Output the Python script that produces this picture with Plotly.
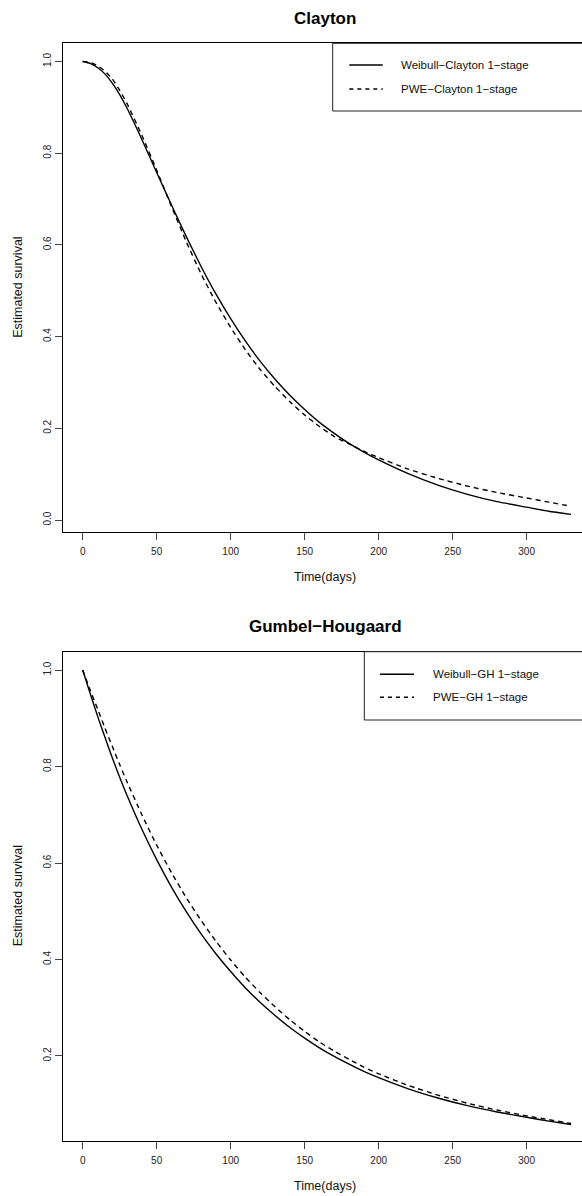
import plotly.graph_objects as go

# ---------------- data ----------------
time_days = [0, 5, 10, 15, 20, 25, 30, 40, 50, 60, 70, 80, 90, 100, 110, 120, 130, 140,
             150, 160, 170, 180, 190, 200, 220, 240, 260, 280, 300, 315, 330]

weibull_clayton = [1.000, 0.996, 0.987, 0.973, 0.953, 0.928, 0.898, 0.830, 0.758, 0.687,
                   0.618, 0.553, 0.493, 0.439, 0.390, 0.346, 0.307, 0.272, 0.241, 0.213,
                   0.189, 0.167, 0.148, 0.131, 0.101, 0.076, 0.056, 0.040, 0.028, 0.019, 0.0124]
pwe_clayton = [1.000, 0.998, 0.991, 0.979, 0.962, 0.937, 0.908, 0.839, 0.763, 0.684,
               0.607, 0.537, 0.475, 0.420, 0.371, 0.328, 0.291, 0.258, 0.229, 0.204,
               0.182, 0.166, 0.150, 0.136, 0.111, 0.091, 0.074, 0.060, 0.048, 0.039, 0.030]

weibull_gh = [1.000, 0.952, 0.905, 0.861, 0.818, 0.778, 0.740, 0.670, 0.607, 0.550,
              0.499, 0.453, 0.412, 0.375, 0.341, 0.311, 0.284, 0.259, 0.237, 0.217,
              0.199, 0.183, 0.168, 0.155, 0.132, 0.113, 0.097, 0.084, 0.073, 0.065, 0.058]
pwe_gh = [1.000, 0.959, 0.920, 0.880, 0.842, 0.804, 0.768, 0.700, 0.637, 0.580,
          0.528, 0.481, 0.438, 0.399, 0.363, 0.331, 0.302, 0.275, 0.251, 0.229,
          0.210, 0.193, 0.177, 0.163, 0.139, 0.119, 0.102, 0.088, 0.076, 0.068, 0.060]

x_ticks = [0, 50, 100, 150, 200, 250, 300]
y_ticks_top = [0.0, 0.2, 0.4, 0.6, 0.8, 1.0]
y_ticks_bottom = [0.2, 0.4, 0.6, 0.8, 1.0]

titles = ["Clayton", "Gumbel\u2212Hougaard"]
names_top = ["Weibull\u2212Clayton 1\u2212stage", "PWE\u2212Clayton 1\u2212stage"]
names_bottom = ["Weibull\u2212GH 1\u2212stage", "PWE\u2212GH 1\u2212stage"]

# ---------------- layout helpers ----------------
W, H = 582, 1196
FONT = "Liberation Sans, Arial, Helvetica, sans-serif"


def px_x(p):
    return p / W


def px_y(p):
    return 1 - p / H


LEFT = 63.3
TOP1, BOT1 = 43.3, 532.3
TOP2, BOT2 = 651.7, 1141.0

fig = go.Figure()

solid = dict(color="black", width=1.4, shape="spline", smoothing=0.5)
dashed = dict(color="black", width=1.4, dash="5px,4px", shape="spline", smoothing=0.5)

fig.add_trace(go.Scatter(x=time_days, y=weibull_clayton, mode="lines", line=solid,
                         name=names_top[0], xaxis="x", yaxis="y", showlegend=False))
fig.add_trace(go.Scatter(x=time_days, y=pwe_clayton, mode="lines", line=dashed,
                         name=names_top[1], xaxis="x", yaxis="y", showlegend=False))
fig.add_trace(go.Scatter(x=time_days, y=weibull_gh, mode="lines", line=solid,
                         name=names_bottom[0], xaxis="x2", yaxis="y2", showlegend=False))
fig.add_trace(go.Scatter(x=time_days, y=pwe_gh, mode="lines", line=dashed,
                         name=names_bottom[1], xaxis="x2", yaxis="y2", showlegend=False))

xr = [-13.1, 337.4]
common_x = dict(domain=[px_x(LEFT), 1], range=xr, tickvals=x_ticks,
                ticks="outside", ticklen=7, tickwidth=1, tickcolor="#444",
                showline=True, linecolor="black", linewidth=1, mirror=True,
                showgrid=False, zeroline=False, ticklabelstandoff=3,
                tickfont=dict(family=FONT, size=10, color="#222"))
common_y = dict(ticks="outside", ticklen=7, tickwidth=1, tickcolor="#444",
                showline=True, linecolor="black", linewidth=1, mirror=False,
                showgrid=False, zeroline=False, tickangle=-90,
                tickfont=dict(family=FONT, size=10, color="#222"))

fig.update_layout(
    width=W, height=H,
    margin=dict(l=0, r=0, t=0, b=0),
    paper_bgcolor="white", plot_bgcolor="white",
    font=dict(family=FONT, color="black"),
    xaxis=dict(common_x, anchor="y"),
    yaxis=dict(common_y, domain=[px_y(BOT1), px_y(TOP1)], range=[-0.0268, 1.0397],
               tickvals=y_ticks_top, ticktext=[f"{v:.1f}" for v in y_ticks_top], anchor="x"),
    xaxis2=dict(common_x, anchor="y2"),
    yaxis2=dict(common_y, domain=[px_y(BOT2), px_y(TOP2)], range=[0.0238, 1.038],
                tickvals=y_ticks_bottom, ticktext=[f"{v:.1f}" for v in y_ticks_bottom], anchor="x2"),
    showlegend=False,
)

annotations = []
shapes = []

# titles and axis labels
for title, ty, top, bot, xl_y in [(titles[0], 18.3, TOP1, BOT1, 577),
                                  (titles[1], 626.7, TOP2, BOT2, 1186)]:
    annotations.append(dict(text=f"<b>{title}</b>", x=px_x(325.2), y=px_y(ty),
                            xref="paper", yref="paper", showarrow=False,
                            xanchor="center", yanchor="middle",
                            font=dict(family=FONT, size=17, color="black")))
    annotations.append(dict(text="Time(days)", x=px_x(325.2), y=px_y(xl_y),
                            xref="paper", yref="paper", showarrow=False,
                            xanchor="center", yanchor="middle",
                            font=dict(family=FONT, size=12.5, color="#111")))
    annotations.append(dict(text="Estimated survival", x=px_x(18), y=px_y((top + bot) / 2),
                            xref="paper", yref="paper", showarrow=False, textangle=-90,
                            xanchor="center", yanchor="middle",
                            font=dict(family=FONT, size=12.5, color="#111")))

# legends (box clipped by the right edge, as in the reference)
for names, bl, bt, bb, l0, l1, tx, rows in [
        (names_top, 332.7, TOP1, 111.0, 349.3, 382.7, 399.0, (65.0, 89.0)),
        (names_bottom, 364.3, TOP2, 720.0, 380.0, 414.0, 430.7, (674.3, 697.3))]:
    shapes.append(dict(type="rect", xref="paper", yref="paper",
                       x0=px_x(bl), x1=px_x(W + 20), y0=px_y(bb), y1=px_y(bt),
                       line=dict(color="#222", width=1), fillcolor="white", layer="above"))
    for i, (nm, ry) in enumerate(zip(names, rows)):
        shapes.append(dict(type="line", xref="paper", yref="paper",
                           x0=px_x(l0), x1=px_x(l1), y0=px_y(ry), y1=px_y(ry),
                           line=dict(color="black", width=1.4,
                                     dash="solid" if i == 0 else "4px,4px"),
                           layer="above"))
        annotations.append(dict(text=nm, x=px_x(tx), y=px_y(ry), xref="paper", yref="paper",
                                showarrow=False, xanchor="left", yanchor="middle",
                                font=dict(family=FONT, size=11.5, color="#111")))

fig.update_layout(annotations=annotations, shapes=shapes)

fig.write_html("out.html")
